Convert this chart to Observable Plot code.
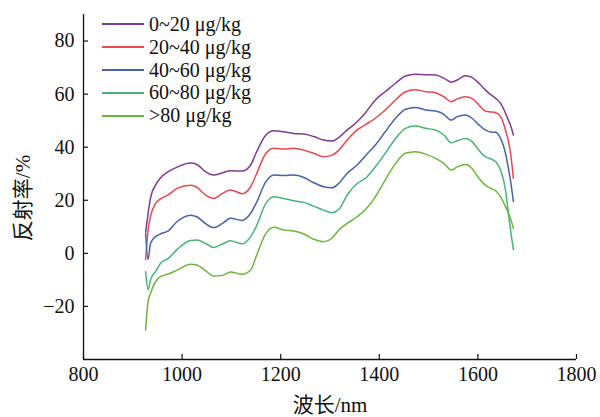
<!DOCTYPE html>
<html>
<head>
<meta charset="utf-8">
<script src="https://cdn.jsdelivr.net/npm/d3@7"></script>
<script src="https://cdn.jsdelivr.net/npm/@observablehq/plot@0.6"></script>
<style>
  html, body { margin: 0; padding: 0; background: #fff; }
  #wrap { position: relative; width: 600px; height: 417px; font-family: "Liberation Serif", "DejaVu Serif", serif, "Noto Sans CJK SC"; }
  #legend { position: absolute; left: 102px; top: 13px; font-size: 20px; color: #111; }
  .row { display: flex; align-items: center; height: 22.8px; }
  .swatch { width: 42px; height: 0; border-top: 2px solid; margin-right: 5px; }
</style>
</head>
<body>
<div id="wrap"><div id="legend"></div></div>
<script>
const wavelength = [926, 931, 936, 946, 956, 972, 990, 1017, 1030, 1047, 1064, 1082, 1098, 1122, 1139, 1150, 1170, 1186, 1206, 1226, 1247, 1267, 1287, 1304, 1318, 1335, 1355, 1372, 1392, 1412, 1433, 1453, 1473, 1494, 1514, 1531, 1546, 1558, 1575, 1588, 1602, 1615, 1626, 1636, 1646, 1656, 1661, 1666, 1672];

const s0_20 = [8, 15, 21, 25.7, 28.4, 30.8, 32.5, 34, 33.5, 30.8, 29.5, 30.4, 31.1, 31, 33.3, 37.8, 44.6, 46.2, 45.8, 45.2, 45, 44, 42.7, 42.3, 43.7, 46.5, 49.6, 53, 57.8, 60.9, 64.1, 66.8, 67.5, 67.3, 67.2, 66, 64.5, 65.3, 66.9, 66.3, 64.1, 61.6, 59.8, 58.4, 56.5, 52.8, 50.5, 48.4, 44.6];
const s20_40 = [-2.3, 8.8, 14, 18.8, 20.5, 22, 24.5, 25.7, 24.9, 22, 20.7, 22.6, 23.9, 22.5, 25.1, 29.5, 37.7, 39.6, 39.3, 39.6, 38.9, 37.7, 36.4, 37, 38.9, 42.7, 46.5, 48.5, 50.9, 54, 57.8, 60.9, 61.6, 60.9, 60.5, 59, 57.1, 58.2, 59, 58.4, 55.9, 53.6, 53.3, 53, 51.5, 46.5, 43, 38, 28.3];
const s40_60 = [7.6, -2.3, 3.8, 6.3, 7.3, 8.5, 12, 14.4, 13.8, 11.3, 9.7, 11.3, 13.2, 12.4, 15.1, 18.8, 27, 29.5, 29.3, 29.5, 28.6, 26.6, 25.1, 24.7, 26.4, 30.2, 33.3, 36.8, 40.8, 45.8, 50.9, 54.3, 55, 54, 53.6, 52.4, 50.2, 51.5, 52.1, 50.9, 48.4, 46.5, 45.7, 45.6, 43.3, 37.7, 33, 27.6, 19.5];
const s60_80 = [-6.9, -13.7, -10, -6.9, -3.8, -1.9, 1.5, 4.8, 5, 3.8, 2.2, 3.5, 4.7, 3.6, 6.3, 10, 18.8, 21.3, 20.7, 19.8, 19.2, 17.8, 16.3, 15.3, 16.6, 22, 26.3, 28.3, 32.6, 37.7, 43.3, 47.1, 48, 47.1, 46.5, 44.6, 41.7, 42.4, 43.3, 42.1, 38.9, 36.4, 35.6, 34.5, 31.4, 23.9, 16.5, 9, 1.5];
const s80 = [-28.9, -18.2, -15, -10.7, -8.8, -7.8, -6.3, -4.1, -4.4, -6.5, -8.5, -8.3, -7, -7.9, -6.3, -1.3, 7.5, 9.8, 8.8, 8.4, 7.3, 5.3, 4.4, 5.7, 8.8, 11.3, 13.8, 16.5, 21.3, 27.6, 33.9, 37.7, 38.3, 37.4, 35.8, 33.9, 31.4, 32.6, 33.5, 32, 28.3, 25.7, 24.5, 23.6, 21.3, 17.6, 15.5, 13.2, 9.4];

const seriesNames = ["0~20 μg/kg", "20~40 μg/kg", "40~60 μg/kg", "60~80 μg/kg", ">80 μg/kg"];
const seriesColors = ["#7e3a95", "#e8484d", "#4862a9", "#47b475", "#6cb43c"];
const seriesValues = [s0_20, s20_40, s40_60, s60_80, s80];

const xTicks = [800, 1000, 1200, 1400, 1600, 1800];
const yTicks = [-20, 0, 20, 40, 60, 80];
const xLabel = "波长/nm";
const yLabel = "反射率/%";

const rows = [];
seriesValues.forEach((vals, i) => {
  vals.forEach((v, j) => rows.push({series: seriesNames[i], wl: wavelength[j], r: v}));
});

const font = '"Liberation Serif", "DejaVu Serif", serif, "Noto Sans CJK SC"';
const fmt = d => (d < 0 ? "\u2212" + Math.abs(d) : String(d));

const chart = Plot.plot({
  width: 600,
  height: 417,
  marginLeft: 83,
  marginRight: 24,
  marginTop: 14,
  marginBottom: 58,
  style: {fontFamily: font, fontSize: "20px", color: "#111", background: "white", overflow: "visible"},
  x: {domain: [800, 1800]},
  y: {domain: [-40, 90]},
  color: {domain: seriesNames, range: seriesColors},
  marks: [
    Plot.ruleX([800], {stroke: "#111", strokeWidth: 1.3}),
    Plot.ruleY([-40], {stroke: "#111", strokeWidth: 1.3}),
    Plot.axisX(xTicks, {tickSize: -5, tickPadding: 12, tickFormat: fmt, label: null, fontSize: 20, fontFamily: font, stroke: "#111", strokeWidth: 1.2}),
    Plot.axisY(yTicks, {tickSize: -5, tickPadding: 14, tickFormat: fmt, label: null, fontSize: 20, fontFamily: font, stroke: "#111", strokeWidth: 1.2}),
    Plot.line(rows, {x: "wl", y: "r", z: "series", stroke: "series", strokeWidth: 1.5, curve: "monotone-x"}),
    Plot.text([xLabel], {frameAnchor: "bottom", textAnchor: "middle", lineAnchor: "bottom", dy: 52, fontSize: 21, fontFamily: font, fill: "#111"}),
    Plot.text([yLabel], {frameAnchor: "left", textAnchor: "middle", rotate: -90, dx: -60, dy: 11, fontSize: 21, fontFamily: font, fill: "#111"})
  ]
});

document.getElementById("wrap").prepend(chart);

const legend = document.getElementById("legend");
seriesNames.forEach((n, i) => {
  const row = document.createElement("div");
  row.className = "row";
  const sw = document.createElement("div");
  sw.className = "swatch";
  sw.style.borderColor = seriesColors[i];
  const t = document.createElement("span");
  t.textContent = n;
  row.append(sw, t);
  legend.append(row);
});
</script>
</body>
</html>
